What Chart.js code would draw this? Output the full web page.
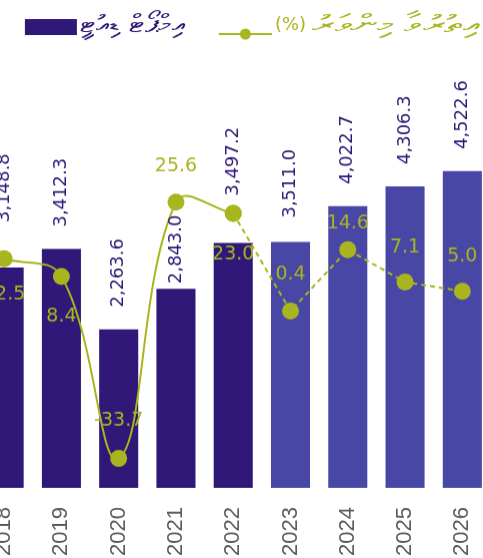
<!DOCTYPE html>
<html>
<head>
<meta charset="utf-8">
<script src="https://cdn.jsdelivr.net/npm/chart.js@4.4.0/dist/chart.umd.min.js"></script>
<style>
  html, body { margin: 0; padding: 0; background: #fff; }
  #wrap { position: relative; width: 483px; height: 558px; overflow: hidden; }
  #box { position: absolute; left: -33px; top: 0; width: 544px; height: 575px; }
</style>
</head>
<body>
<div id="wrap">
  <div id="box"><canvas id="grafico"></canvas></div>
</div>
<script>
// data
const years = ['2018', '2019', '2020', '2021', '2022', '2023', '2024', '2025', '2026']
const import_duty = [3148.8, 3412.3, 2263.6, 2843.0, 3497.2, 3511.0, 4022.7, 4306.3, 4522.6]
const growth = [12.5, 8.4, -33.7, 25.6, 23.0, 0.4, 14.6, 7.1, 5.0]
const first_projected = '2023'
const label_bars = 'އިމްޕޯޓް ޑިއުޓީ'
const label_line = 'އިތުރުވާ މިންވަރު'
const label_line_unit = '(%)'

const dark = '#2f1878'
const light = '#4847a5'
const green = '#a8b51f'

// the picture is a crop: plot area starts left of the page
const plot_left = -24.4
const plot_width = 515.6
const plot_bottom = 487

// label nudges (px)
const bar_label_lift = [45, 22, 22, 5, 47, 24, 22, 22, 22]
const growth_label_dy = [36, 40, -38, -36, 41, -36, -26, -35, -35]

const last_actual = years.indexOf(first_projected) - 1
const solid_part = growth.map((v, i) => i <= last_actual ? v : null)
const dashed_part = growth.map((v, i) => i >= last_actual ? v : null)
const bar_colors = years.map((y, i) => i <= last_actual ? dark : light)

const box = document.getElementById('box')

function fmt(v) {
    return v.toLocaleString('en-US', { minimumFractionDigits: 1, maximumFractionDigits: 1 })
}

// thaana text stretched sideways to a target width
function fit_text(ctx, text, right, y, width) {
    ctx.font = '25px "DejaVu Sans"'
    const sx = width / ctx.measureText(text).width
    ctx.save()
    ctx.translate(right, y)
    ctx.scale(sx, 1)
    ctx.direction = 'rtl'
    ctx.textAlign = 'right'
    ctx.fillText(text, 0, 0)
    ctx.restore()
}

const legenda = {
    id: 'legenda',
    afterDraw(chart) {
        const { ctx } = chart
        const dx = -parseFloat(box.style.left)
        ctx.save()
        ctx.textBaseline = 'alphabetic'
        // bars
        ctx.fillStyle = dark
        ctx.fillRect(25 + dx, 19, 52, 16)
        fit_text(ctx, label_bars, 185 + dx, 32, 105)
        // line
        ctx.strokeStyle = green
        ctx.lineWidth = 2
        ctx.beginPath()
        ctx.moveTo(219 + dx, 34)
        ctx.lineTo(272 + dx, 34)
        ctx.stroke()
        ctx.fillStyle = green
        ctx.beginPath()
        ctx.arc(245.5 + dx, 34, 5.5, 0, Math.PI * 2)
        ctx.fill()
        ctx.font = '18px "DejaVu Sans"'
        ctx.textAlign = 'left'
        ctx.fillText(label_line_unit, 275 + dx, 30)
        fit_text(ctx, label_line, 480 + dx, 32, 168)
        ctx.restore()
    }
}

const value_labels = {
    id: 'value_labels',
    afterDatasetsDraw(chart) {
        const { ctx } = chart
        const bars = chart.getDatasetMeta(0).data
        ctx.save()
        ctx.font = '18px "DejaVu Sans"'
        ctx.fillStyle = dark
        ctx.textAlign = 'left'
        ctx.textBaseline = 'middle'
        bars.forEach((bar, i) => {
            ctx.save()
            ctx.translate(bar.x, bar.y - bar_label_lift[i])
            ctx.rotate(-Math.PI / 2)
            ctx.fillText(fmt(import_duty[i]), 0, 0)
            ctx.restore()
        })
        ctx.font = '19px "DejaVu Sans"'
        ctx.fillStyle = green
        ctx.textAlign = 'center'
        const y1 = chart.scales.y1
        bars.forEach((bar, i) => {
            ctx.fillText(growth[i].toFixed(1), bar.x, y1.getPixelForValue(growth[i]) + growth_label_dy[i])
        })
        ctx.restore()
    }
}

const chart = new Chart(document.getElementById('grafico'), {
    type: 'bar',
    data: {
        labels: years,
        datasets: [
            {
                type: 'bar',
                label: label_bars,
                data: import_duty,
                backgroundColor: bar_colors,
                categoryPercentage: 1,
                barPercentage: 0.682,
                yAxisID: 'y',
                order: 2
            },
            {
                type: 'line',
                label: label_line,
                data: solid_part,
                borderColor: green,
                backgroundColor: green,
                borderWidth: 2,
                tension: 0.4,
                pointRadius: 8.5,
                pointBorderWidth: 0,
                yAxisID: 'y1',
                order: 1
            },
            {
                type: 'line',
                label: label_line,
                data: dashed_part,
                borderColor: green,
                backgroundColor: green,
                borderWidth: 2,
                borderDash: [5, 4],
                tension: 0,
                pointRadius: 8.5,
                pointBorderWidth: 0,
                yAxisID: 'y1',
                order: 1
            }
        ]
    },
    options: {
        responsive: true,
        maintainAspectRatio: false,
        animation: false,
        layout: { padding: { top: 137.5 } },
        scales: {
            x: {
                offset: true,
                grid: { display: false, drawTicks: false },
                border: { display: false },
                ticks: {
                    minRotation: 90,
                    maxRotation: 90,
                    padding: 19,
                    color: '#5c5c5c',
                    font: { family: '"Liberation Sans", Arial, sans-serif', size: 22 }
                }
            },
            y: { display: false, min: 0, max: 5000 },
            y1: { display: false, min: -40.5, max: 40.5 }
        },
        plugins: {
            tooltip: { enabled: false },
            legend: { display: false }
        }
    },
    plugins: [value_labels, legenda]
})

// fit the canvas so the plot area lands where the crop has it
const a = chart.chartArea
const pad_left = a.left
const pad_right = box.clientWidth - a.right
const axis_h = box.clientHeight - a.bottom
box.style.left = (plot_left - pad_left) + 'px'
box.style.width = (pad_left + plot_width + pad_right) + 'px'
box.style.height = (plot_bottom + axis_h) + 'px'
chart.resize()
</script>
</body>
</html>
